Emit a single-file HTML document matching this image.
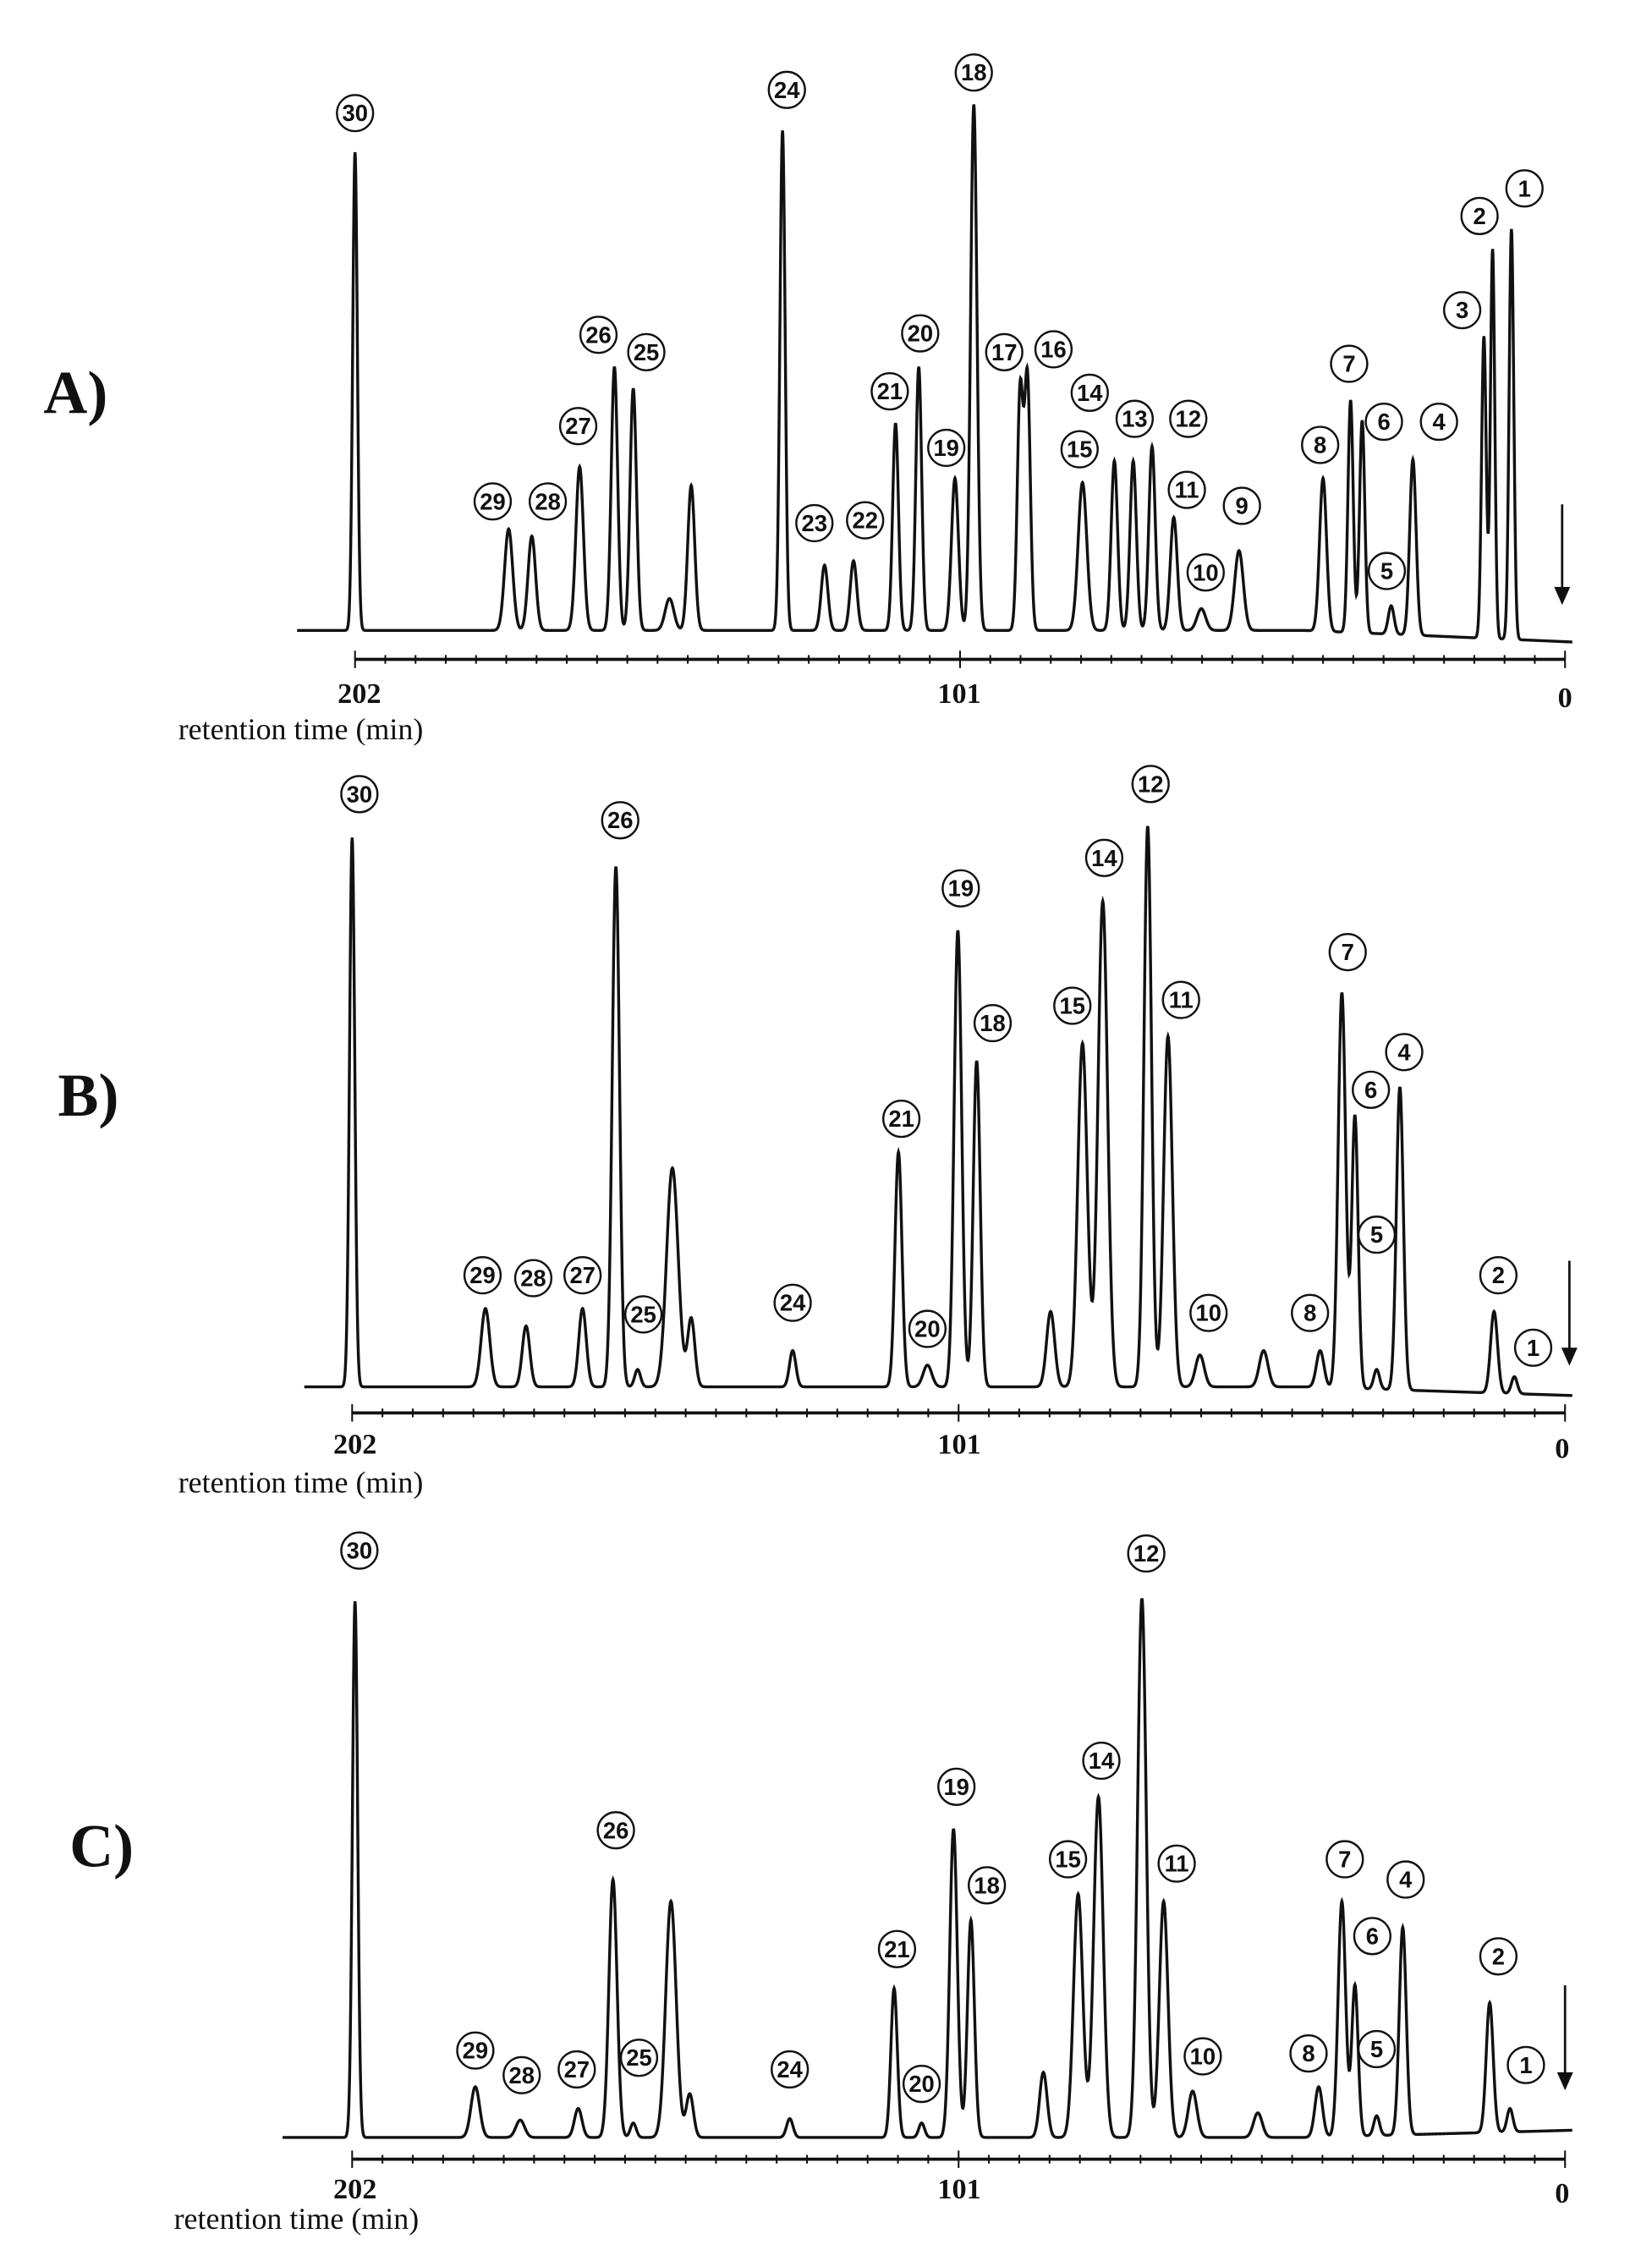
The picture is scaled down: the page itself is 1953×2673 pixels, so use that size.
<!DOCTYPE html>
<html><head><meta charset="utf-8"><style>
html,body{margin:0;padding:0;background:#fff;}
svg{display:block;}
.c{font-family:"Liberation Sans",sans-serif;font-size:16px;font-weight:600;text-anchor:middle;dominant-baseline:central;fill:#111;}
.ax{font-family:"Liberation Serif",serif;font-size:20px;font-weight:bold;text-anchor:middle;fill:#111;}
.rt{font-family:"Liberation Serif",serif;font-size:21px;fill:#111;}
.pl{font-family:"Liberation Serif",serif;font-size:42px;font-weight:bold;fill:#111;}
</style></head><body>
<svg id="s" width="1953" height="2673" viewBox="0 0 1140 1560.2" xmlns="http://www.w3.org/2000/svg">
<rect width="1140" height="1561" fill="#fff"/>
<g id="traces" fill="none" stroke="#111" stroke-width="2"></g>
<g id="circles" fill="#fff" stroke="#111" stroke-width="1.4"></g>
<g id="labels">
<text class="pl" x="30" y="285">A)</text>
<text class="pl" x="40" y="770">B)</text>
<text class="pl" x="48" y="1288">C)</text>
<text class="ax" x="248" y="485">202</text><text class="ax" x="662" y="485">101</text><text class="ax" x="1080" y="488">0</text>
<text class="rt" x="123" y="510">retention time (min)</text>
<text class="ax" x="245" y="1003">202</text><text class="ax" x="662" y="1003">101</text><text class="ax" x="1078" y="1006">0</text>
<text class="rt" x="123" y="1030">retention time (min)</text>
<text class="ax" x="245" y="1517">202</text><text class="ax" x="662" y="1517">101</text><text class="ax" x="1078" y="1520">0</text>
<text class="rt" x="120" y="1538">retention time (min)</text>
<text class="c" x="245" y="78">30</text><text class="c" x="543" y="62">24</text><text class="c" x="672" y="50">18</text>
<text class="c" x="413" y="231">26</text><text class="c" x="446" y="243">25</text><text class="c" x="399" y="294">27</text>
<text class="c" x="340" y="346">29</text><text class="c" x="378" y="346">28</text><text class="c" x="562" y="361">23</text>
<text class="c" x="597" y="359">22</text><text class="c" x="614" y="270">21</text><text class="c" x="635" y="230">20</text>
<text class="c" x="653" y="309">19</text><text class="c" x="693" y="243">17</text><text class="c" x="727" y="241">16</text>
<text class="c" x="752" y="271">14</text><text class="c" x="783" y="289">13</text><text class="c" x="820" y="289">12</text>
<text class="c" x="745" y="310">15</text><text class="c" x="819" y="338">11</text><text class="c" x="857" y="349">9</text>
<text class="c" x="832" y="395">10</text><text class="c" x="911" y="307">8</text><text class="c" x="931" y="251">7</text>
<text class="c" x="955" y="291">6</text><text class="c" x="993" y="291">4</text><text class="c" x="957" y="394">5</text>
<text class="c" x="1009" y="214">3</text><text class="c" x="1021" y="149">2</text><text class="c" x="1052" y="130">1</text>
<text class="c" x="248" y="548">30</text><text class="c" x="428" y="566">26</text><text class="c" x="333" y="880">29</text>
<text class="c" x="368" y="882">28</text><text class="c" x="402" y="880">27</text><text class="c" x="444" y="907">25</text>
<text class="c" x="547" y="899">24</text><text class="c" x="622" y="772">21</text><text class="c" x="640" y="917">20</text>
<text class="c" x="663" y="613">19</text><text class="c" x="685" y="706">18</text><text class="c" x="740" y="694">15</text>
<text class="c" x="762" y="592">14</text><text class="c" x="794" y="541">12</text><text class="c" x="815" y="690">11</text>
<text class="c" x="834" y="906">10</text><text class="c" x="904" y="906">8</text><text class="c" x="930" y="657">7</text>
<text class="c" x="946" y="752">6</text><text class="c" x="969" y="726">4</text><text class="c" x="950" y="852">5</text>
<text class="c" x="1034" y="880">2</text><text class="c" x="1058" y="930">1</text>
<text class="c" x="248" y="1070">30</text><text class="c" x="425" y="1263">26</text><text class="c" x="328" y="1415">29</text>
<text class="c" x="360" y="1432">28</text><text class="c" x="398" y="1428">27</text><text class="c" x="441" y="1420">25</text>
<text class="c" x="545" y="1428">24</text><text class="c" x="619" y="1345">21</text><text class="c" x="636" y="1438">20</text>
<text class="c" x="660" y="1233">19</text><text class="c" x="681" y="1301">18</text><text class="c" x="737" y="1283">15</text>
<text class="c" x="760" y="1215">14</text><text class="c" x="791" y="1072">12</text><text class="c" x="812" y="1286">11</text>
<text class="c" x="830" y="1419">10</text><text class="c" x="903" y="1417">8</text><text class="c" x="928" y="1283">7</text>
<text class="c" x="947" y="1336">6</text><text class="c" x="970" y="1297">4</text><text class="c" x="950" y="1414">5</text>
<text class="c" x="1034" y="1350">2</text><text class="c" x="1053" y="1425">1</text>
</g>
</svg>
<script>
(function(){
var NS="http://www.w3.org/2000/svg";
var tr=document.getElementById("traces");
function el(n,a,p){var e=document.createElementNS(NS,n);for(var k in a)e.setAttribute(k,a[k]);(p||tr).appendChild(e);return e;}
function trace(base,baseR,x0,x1,peaks){
  var d="";
  for(var x=x0;x<=x1;x+=0.25){
    var b=base+(baseR-base)*Math.max(0,(x-900)/(x1-900));
    var y=b;
    for(var i=0;i<peaks.length;i++){var p=peaks[i];var h=b-p[1];var s=p[2]||2.6;var dx=x-p[0];if(Math.abs(dx)<s*6)y-=h*Math.exp(-dx*dx/(2*s*s));}
    d+=(d?"L":"M")+x.toFixed(2)+" "+y.toFixed(2);
  }
  el("path",{d:d});
}
function axis(y,x0,x1){
  el("line",{x1:x0,y1:y,x2:x1,y2:y,"stroke-width":2.2});
  for(var i=0;i<=40;i++){var x=x0+(x1-x0)*i/40;el("line",{x1:x,y1:y-(i%20==0?6:3),x2:x,y2:y+(i%20==0?6:3),"stroke-width":1.2});}
}
function arrow(x,y0,y1){el("line",{x1:x,y1:y0,x2:x,y2:y1-6,"stroke-width":1.6});el("path",{d:"M"+(x-4)+" "+(y1-9)+"L"+x+" "+y1+"L"+(x+4)+" "+(y1-9)+"Z",fill:"#111"});}
trace(435,443,205,1085,[[245,105,1.6],[351,365,2.8],[367,370,2.6],[400,322,2.6],[424,253,2.2],[437,268,2.2],[462,413,3],[477,335,2.4],[540,90,1.8],[569,390,2.3],[589,387,2.3],[618,292,2],[634,253,2],[659,330,2.4],[672,72,2.2],[704,270,2],[709,262,2],[747,333,3],[769,318,2.2],[782,318,2.2],[795,308,2.2],[810,357,2.4],[829,420,3],[855,380,3],[913,330,2.4],[932,276,1.8],[940,290,1.8],[960,418,2],[975,317,2.2],[1024,232,1.6],[1030,172,1.5],[1043,158,1.6]]);
axis(455,245,1080);arrow(1078,348,415);
trace(957,963,210,1085,[[243,578,1.8],[335,903,3],[363,915,2.6],[402,903,2.6],[425,598,2.5],[440,945,2],[464,806,4],[477,910,2.5],[547,932,2.2],[620,795,2.4],[640,942,3],[661,642,2.6],[674,732,2.4],[725,905,2.8],[747,720,3.3],[761,622,3.3],[792,570,2.6],[806,715,3],[828,935,3],[872,932,3],[911,932,2.6],[926,685,2.6],[935,770,2.2],[950,945,2],[966,750,2.4],[1031,905,2.4],[1045,950,2]]);
axis(975,243,1080);arrow(1083,870,940);
trace(1475,1470,195,1085,[[245,1105,1.8],[328,1440,3],[359,1463,3],[399,1455,2.6],[423,1297,2.8],[437,1465,2],[463,1312,3.6],[476,1445,2.5],[545,1462,2.2],[617,1372,2.2],[636,1465,2],[658,1262,2.6],[670,1325,2.4],[720,1430,2.6],[744,1307,3.2],[758,1240,3.3],[788,1103,3],[803,1312,3],[823,1443,3],[868,1458,3],[910,1440,2.6],[926,1312,2.6],[935,1370,2.2],[950,1460,2],[968,1330,2.4],[1028,1382,2.4],[1042,1455,2]]);
axis(1490,243,1080);arrow(1080,1370,1440);
var cg=document.getElementById("circles");
var ts=document.querySelectorAll("text.c");
for(var i=0;i<ts.length;i++){el("circle",{cx:ts[i].getAttribute("x"),cy:ts[i].getAttribute("y"),r:12.5},cg);}
})();
</script>
</body></html>
